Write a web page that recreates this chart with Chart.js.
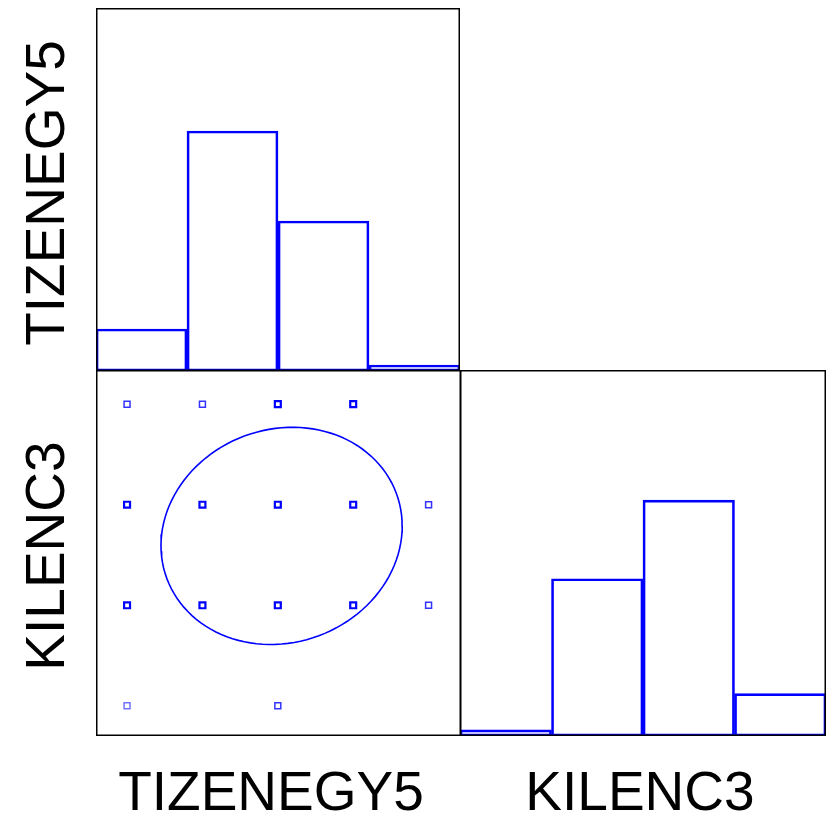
<!DOCTYPE html>
<html>
<head>
<meta charset="utf-8">
<script src="https://cdn.jsdelivr.net/npm/chart.js@4"></script>
<style>
  body { margin: 0; background: #fff; width: 827px; height: 814px; position: relative; overflow: hidden; }
  .box { position: absolute; }
  .lbl { position: absolute; font-family: "Liberation Sans", Arial, sans-serif; font-size: 55px; color: #000; white-space: nowrap; line-height: 1; }
</style>
</head>
<body>
<div class="box" style="left:96px;top:8px;width:364px;height:363px"><canvas id="histA"></canvas></div>
<div class="box" style="left:96px;top:370px;width:365px;height:366px"><canvas id="scatter"></canvas></div>
<div class="box" style="left:460px;top:370px;width:366px;height:366px"><canvas id="histB"></canvas></div>

<div class="lbl" id="yl1" style="left:45px;top:193px;transform:translate(-50%,-50%) rotate(-90deg)">TIZENEGY5</div>
<div class="lbl" id="yl2" style="left:45px;top:556px;transform:translate(-50%,-50%) rotate(-90deg)">KILENC3</div>
<div class="lbl" id="xl1" style="left:271px;top:791px;transform:translate(-50%,-50%)">TIZENEGY5</div>
<div class="lbl" id="xl2" style="left:640px;top:791px;transform:translate(-50%,-50%)">KILENC3</div>

<script>
// histogram counts (4 bins each)
const binsA = ['1', '2', '3', '4'];
const countsA = [7, 40, 25, 1];      // TIZENEGY5
const countsB = [1, 26, 39, 7];      // KILENC3

// scatter points: TIZENEGY5 (x) vs KILENC3 (y), and how many cases sit on each point
const scatX = [1, 2, 3, 4, 1, 2, 3, 4, 5, 1, 2, 3, 4, 5, 1, 3];
const scatY = [4, 4, 4, 4, 3, 3, 3, 3, 3, 2, 2, 2, 2, 2, 1, 1];
const scatN = [3, 3, 5, 5, 6, 5, 9, 8, 2, 6, 5, 6, 5, 2, 1, 2];

// ellipse parameters (mean, spread, correlation)
const ellCenter = [3.05, 2.69];
const ellRadius = [1.60, 1.08];
const ellRho = 0.09;

const blue = '#0000ff';

const frame = {
  id: 'frame',
  afterDraw(chart) {
    const c = chart.ctx, a = chart.chartArea;
    c.save();
    c.strokeStyle = '#000';
    c.lineWidth = 1.5;
    c.strokeRect(a.left + 0.75, a.top + 0.75, a.right - a.left - 1.5, a.bottom - a.top - 1.5);
    c.restore();
  }
};

function hist(id, counts) {
  new Chart(document.getElementById(id), {
    type: 'bar',
    data: {
      labels: binsA,
      datasets: [{
        data: counts,
        backgroundColor: 'rgba(0,0,0,0)',
        borderColor: blue,
        borderWidth: 2,
        borderSkipped: false,
        categoryPercentage: 1,
        barPercentage: 1
      }]
    },
    options: {
      responsive: true,
      maintainAspectRatio: false,
      animation: false,
      layout: { padding: 0, autoPadding: false },
      plugins: { legend: { display: false }, tooltip: { enabled: false } },
      scales: {
        x: { display: false },
        y: { display: false, min: 0, max: 60.5 }
      }
    },
    plugins: [frame]
  });
}

hist('histA', countsA);
hist('histB', countsB);

const pts = scatX.map((x, i) => ({ x: x, y: scatY[i] }));
const ptColors = scatN.map(n => n <= 1 ? 'rgba(0,0,255,0.55)' : (n <= 3 ? 'rgba(0,0,255,0.8)' : blue));
const ptWidths = scatN.map(n => n >= 5 ? 2.2 : 1.5);

const ell = [];
for (let i = 0; i <= 120; i++) {
  const t = i / 120 * 2 * Math.PI;
  ell.push({
    x: ellCenter[0] + ellRadius[0] * Math.cos(t),
    y: ellCenter[1] + ellRadius[1] * Math.cos(t - Math.acos(ellRho))
  });
}

new Chart(document.getElementById('scatter'), {
  type: 'scatter',
  data: {
    datasets: [{
      data: pts,
      pointStyle: 'rect',
      pointRadius: 4.2,
      backgroundColor: 'rgba(0,0,0,0)',
      borderColor: ptColors,
      borderWidth: ptWidths
    }, {
      data: ell,
      showLine: true,
      pointRadius: 0,
      borderColor: blue,
      borderWidth: 1.6,
      tension: 0
    }]
  },
  options: {
    responsive: true,
    maintainAspectRatio: false,
    animation: false,
    layout: { padding: 0, autoPadding: false },
    plugins: { legend: { display: false }, tooltip: { enabled: false } },
    scales: {
      x: { type: 'linear', display: false, min: 0.588, max: 5.43 },
      y: { type: 'linear', display: false, min: 0.70, max: 4.34 }
    }
  },
  plugins: [frame]
});
</script>
</body>
</html>
